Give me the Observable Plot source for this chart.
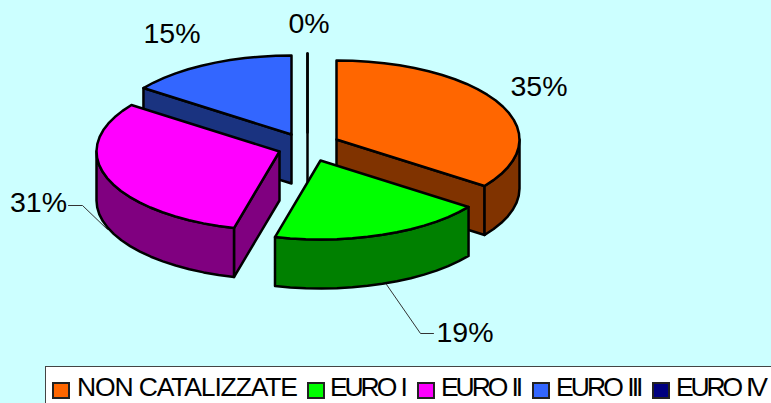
<!DOCTYPE html>
<html><head><meta charset="utf-8">
<script src="https://cdn.jsdelivr.net/npm/d3@7"></script>
<script src="https://cdn.jsdelivr.net/npm/@observablehq/plot@0.6"></script>
<style>
html,body{margin:0;padding:0;background:#CCFFFF;width:771px;height:403px;overflow:hidden;font-family:"Liberation Sans",Arial,sans-serif}
#chart svg{display:block;background:transparent}
#legend{position:absolute;left:45px;top:366px;width:726px;height:37px;box-sizing:border-box;background:#fff;border:1px solid #444;border-right:none;border-bottom:none}
#legend span{position:absolute;top:0;font-size:26.5px;line-height:40px;color:#000;white-space:nowrap}
#legend i{position:absolute;top:15px;width:18px;height:17px;border:2px solid #222;box-sizing:border-box}
</style></head><body>
<div id="chart"></div><div id="legend"></div>
<script>
// Data
const categories = ["NON CATALIZZATE", "EURO I", "EURO II", "EURO III", "EURO IV"];
const shares = [35, 19, 31, 15, 0];
const topColors = ["#FF6600", "#00FF00", "#FF00FF", "#3366FF", "#000080"];
const wallColors = ["#803300", "#008000", "#800080", "#1A3380", "#000040"];

// Pie layout (ellipse radii, extrusion, exploded apex of each slice, label and legend placement)
const W = 771, H = 366, RX = 183, RY = 79, DEPTH = 49;
const apexX = [336, 320, 279, 291, 307];
const apexY = [139, 160, 151, 134, 132];
const labelX = [538.5, 464.5, 38, 171.5, 308.5];
const labelY = [86, 332, 202, 33, 23];
const leader31 = [[68, 205], [82, 205], [107, 229]];
const leader19 = [[386, 284], [420, 333], [433, 333]];
const legendSwatch = [6, 261, 371, 486, 606];
const legendText = [31, 284, 395, 510, 630];
const legendSpacing = [-1.15, -3.1, -3.08, -2.94, -3.18];
const legendWordSpacing = [0, 2, 2, 2, 2];

const toRad = d => d * Math.PI / 180;
const STEP = 5;
let cum = 0;
const slices = shares.map((s, i) => {
  const a0 = cum * 3.6; cum += s; const a1 = cum * 3.6;
  return {i, a0, a1, cx: apexX[i], cy: apexY[i]};
});
const onRim = (sl, a, d = 0) => ({x: sl.cx + RX * Math.sin(toRad(a)), y: sl.cy - RY * Math.cos(toRad(a)) + d});
const arc = (sl, from, to, d = 0) => {
  const pts = [];
  const n = Math.max(1, Math.round(Math.abs(to - from) / STEP));
  for (let k = 0; k <= n; k++) pts.push(onRim(sl, from + (to - from) * k / n, d));
  return pts;
};
const faces = [];
const push = (id, color, pts) => pts.forEach(p => faces.push({...p, id, color}));
function radialWall(sl, a) {
  const e = onRim(sl, a);
  push(`r${sl.i}`, wallColors[sl.i], [
    {x: sl.cx, y: sl.cy}, e, {x: e.x, y: e.y + DEPTH}, {x: sl.cx, y: sl.cy + DEPTH}
  ]);
}
function outerWall(sl, a, b) {
  push(`o${sl.i}`, wallColors[sl.i], [...arc(sl, a, b), ...arc(sl, b, a, DEPTH)]);
}
function topFace(sl) {
  push(`t${sl.i}`, topColors[sl.i], [{x: sl.cx, y: sl.cy}, ...arc(sl, sl.a0, sl.a1)]);
}
const [orange, green, magenta, blue, navy] = slices;
// painter's order, back to front
radialWall(blue, blue.a0); topFace(blue);
radialWall(navy, navy.a0); topFace(navy);
radialWall(orange, orange.a1); outerWall(orange, 90, orange.a1); topFace(orange);
radialWall(magenta, magenta.a0); outerWall(magenta, magenta.a0, 270); topFace(magenta);
outerWall(green, green.a0, green.a1); topFace(green);

const labels = shares.map((s, i) => ({x: labelX[i], y: labelY[i], text: `${s}%`}));
const leaders = [
  ...leader31.map(([x, y]) => ({x, y, id: "a"})),
  ...leader19.map(([x, y]) => ({x, y, id: "b"}))
];

const plot = Plot.plot({
  width: W, height: H, margin: 0,
  x: {domain: [0, W], range: [0, W], axis: null},
  y: {domain: [0, H], range: [0, H], axis: null},
  color: {type: "identity"},
  style: {background: "transparent"},
  marks: [
    Plot.line(faces, {x: "x", y: "y", z: "id", fill: "color", stroke: "#000", strokeWidth: 2.5,
      curve: "linear-closed", strokeLinejoin: "round"}),
    Plot.line(leaders, {x: "x", y: "y", z: "id", stroke: "#333", strokeWidth: 1}),
    Plot.text(labels, {x: "x", y: "y", text: "text", fontSize: 28.5, fill: "#000",
      fontFamily: "Liberation Sans, Arial, sans-serif", textAnchor: "middle", lineAnchor: "middle"})
  ]
});
document.getElementById("chart").append(plot);

const legend = document.getElementById("legend");
categories.forEach((c, i) => {
  const sw = document.createElement("i");
  sw.style.left = legendSwatch[i] + "px";
  sw.style.background = topColors[i];
  legend.append(sw);
  const t = document.createElement("span");
  t.textContent = c;
  t.style.left = legendText[i] + "px";
  t.style.letterSpacing = legendSpacing[i] + "px";
  t.style.wordSpacing = legendWordSpacing[i] + "px";
  legend.append(t);
});
</script></body></html>
